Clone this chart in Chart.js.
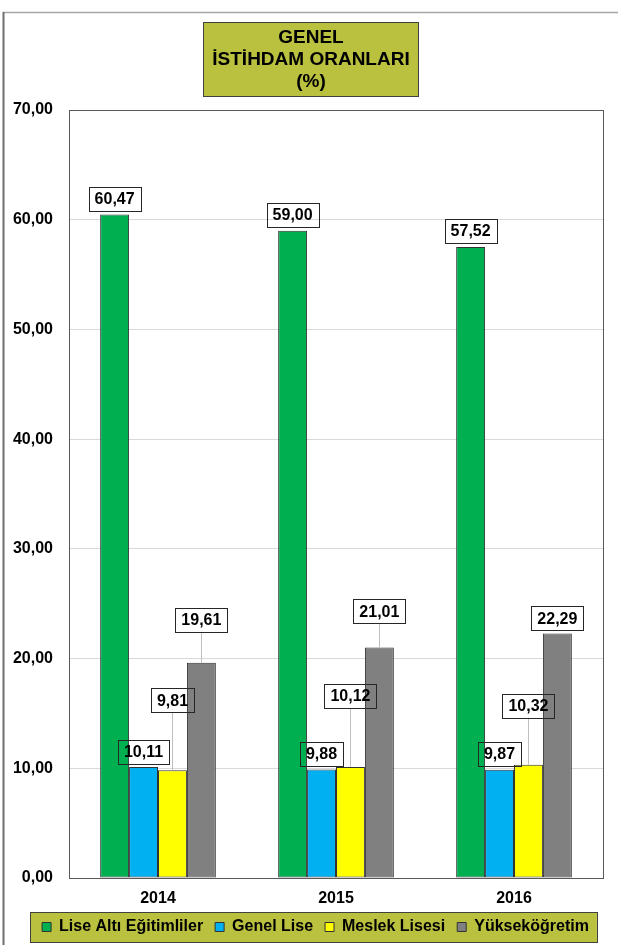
<!DOCTYPE html>
<html>
<head>
<meta charset="utf-8">
<script src="https://cdn.jsdelivr.net/npm/chart.js@4.4.1/dist/chart.umd.min.js"></script>
<style>
  html, body { margin: 0; padding: 0; background: #fff; }
  #wrap { position: relative; width: 618px; height: 945px; }
</style>
</head>
<body>
<div id="wrap"><canvas id="chart" width="618" height="945"></canvas></div>
<script>
const years = ['2014', '2015', '2016'];
const seriesNames = ['Lise Altı Eğitimliler', 'Genel Lise', 'Meslek Lisesi', 'Yükseköğretim'];
const liseAlti = [60.47, 59.00, 57.52];
const genelLise = [10.11, 9.88, 9.87];
const meslekLisesi = [9.81, 10.12, 10.32];
const yuksekogretim = [19.61, 21.01, 22.29];
const yTicks = [0, 10, 20, 30, 40, 50, 60, 70];
const titleLines = ['GENEL', 'İSTİHDAM ORANLARI', '(%)'];

const colors = ['#00b050', '#00b0f0', '#ffff00', '#808080'];
const olive = '#b9c13e';
const FONT = '"Liberation Sans", Arial, sans-serif';
// how far (px) each label box sits above its bar, like the hand-moved excel labels
const labelLift = [[4, 4, 4], [3, 4, 4], [58, 59, 47], [31, 24, 3]];

const fmt = v => v.toFixed(2).replace('.', ',');

const decor = {
    id: 'decor',
    afterLayout(chart) {
        // legend sits a bit right of centre in the original
        if (chart.legend) {
            chart.legend.left += 14;
            chart.legend.right += 14;
        }
    },
    beforeDraw(chart) {
        const ctx = chart.ctx;
        ctx.save();
        ctx.fillStyle = '#fff';
        ctx.fillRect(0, 0, chart.width, chart.height);

        // outer chart frame (only top and left edges are in view)
        ctx.strokeStyle = '#a6a6a6';
        ctx.lineWidth = 1.5;
        ctx.beginPath();
        ctx.moveTo(3, 12.5);
        ctx.lineTo(chart.width, 12.5);
        ctx.stroke();
        ctx.strokeStyle = '#6f6f6f';
        ctx.lineWidth = 2;
        ctx.beginPath();
        ctx.moveTo(3.5, 12);
        ctx.lineTo(3.5, chart.height);
        ctx.stroke();

        // title box
        ctx.font = 'bold 19px ' + FONT;
        let w = 0;
        titleLines.forEach(t => { w = Math.max(w, ctx.measureText(t).width); });
        const cx = chart.width / 2 + 2;
        const bw = w + 18;
        ctx.fillStyle = olive;
        ctx.fillRect(cx - bw / 2, 22, bw, 74);
        ctx.strokeStyle = '#404040';
        ctx.lineWidth = 1;
        ctx.strokeRect(Math.round(cx - bw / 2) + 0.5, 22.5, Math.round(bw), 74);
        ctx.fillStyle = '#000';
        ctx.textAlign = 'center';
        ctx.textBaseline = 'middle';
        titleLines.forEach((t, i) => ctx.fillText(t, cx, 38 + i * 22));

        // legend background
        const boxes = chart.legend && chart.legend.legendHitBoxes;
        if (boxes && boxes.length) {
            const first = boxes[0], last = boxes[boxes.length - 1];
            const mid = first.top + first.height / 2;
            const l = first.left - 12, r = last.left + last.width + 8;
            ctx.fillStyle = olive;
            ctx.fillRect(l, mid - 15, r - l, 30);
            ctx.strokeStyle = '#404040';
            ctx.strokeRect(Math.round(l) + 0.5, Math.round(mid - 15) + 0.5, Math.round(r - l), 30);
        }
        ctx.restore();
    },
    beforeDatasetsDraw(chart) {
        const {ctx, chartArea: a} = chart;
        ctx.save();
        ctx.strokeStyle = '#595959';
        ctx.lineWidth = 1;
        ctx.strokeRect(Math.round(a.left) + 0.5, Math.round(a.top) + 0.5,
            Math.round(a.right - a.left), Math.round(a.bottom - a.top));
        ctx.restore();
    },
    afterDatasetsDraw(chart) {
        const ctx = chart.ctx;
        ctx.save();
        ctx.font = 'bold 16px ' + FONT;
        ctx.textAlign = 'center';
        ctx.textBaseline = 'middle';
        chart.data.datasets.forEach((ds, i) => {
            chart.getDatasetMeta(i).data.forEach((bar, j) => {
                const text = fmt(ds.data[j]);
                const lift = labelLift[i][j];
                const bottom = bar.y - lift;
                const bw = ctx.measureText(text).width + 12;
                const bh = 24;
                if (lift > 6) {
                    ctx.strokeStyle = '#bfbfbf';
                    ctx.lineWidth = 1;
                    ctx.beginPath();
                    ctx.moveTo(Math.round(bar.x) + 0.5, bottom);
                    ctx.lineTo(Math.round(bar.x) + 0.5, bar.y);
                    ctx.stroke();
                }
                ctx.strokeStyle = '#262626';
                ctx.lineWidth = 1;
                ctx.strokeRect(Math.round(bar.x - bw / 2) + 0.5, Math.round(bottom - bh) + 0.5, Math.round(bw), bh);
                ctx.fillStyle = '#000';
                ctx.fillText(text, bar.x, bottom - bh / 2 + 1);
            });
        });
        ctx.restore();
    }
};

const seriesData = [liseAlti, genelLise, meslekLisesi, yuksekogretim];

new Chart(document.getElementById('chart'), {
    type: 'bar',
    data: {
        labels: years,
        datasets: seriesNames.map((name, i) => ({
            label: name,
            data: seriesData[i],
            backgroundColor: colors[i],
            borderColor: '#333333',
            borderWidth: 1,
            borderSkipped: false,
            categoryPercentage: 0.65,
            barPercentage: 1.0
        }))
    },
    options: {
        responsive: false,
        devicePixelRatio: 1,
        animation: false,
        layout: { padding: { top: 110, right: 15, left: 0, bottom: 0 } },
        plugins: {
            title: { display: false },
            tooltip: { enabled: false },
            legend: {
                position: 'bottom',
                labels: {
                    boxWidth: 9,
                    boxHeight: 9,
                    padding: 12,
                    color: '#000',
                    font: { family: FONT, size: 16, weight: 'bold' }
                }
            }
        },
        scales: {
            x: {
                grid: { display: false },
                border: { display: false },
                ticks: { color: '#000', padding: 3, font: { family: FONT, size: 16, weight: 'bold' } },
                afterFit(s) { s.height = 29; }
            },
            y: {
                min: 0,
                max: 70,
                afterBuildTicks(s) { s.ticks = yTicks.map(v => ({ value: v })); },
                grid: { color: '#d9d9d9', drawTicks: false },
                border: { display: false },
                ticks: {
                    color: '#000',
                    padding: 16,
                    font: { family: FONT, size: 16, weight: 'bold' },
                    callback: v => fmt(v)
                },
                afterFit(s) { s.width = 69; }
            }
        }
    },
    plugins: [decor]
});
</script>
</body>
</html>
